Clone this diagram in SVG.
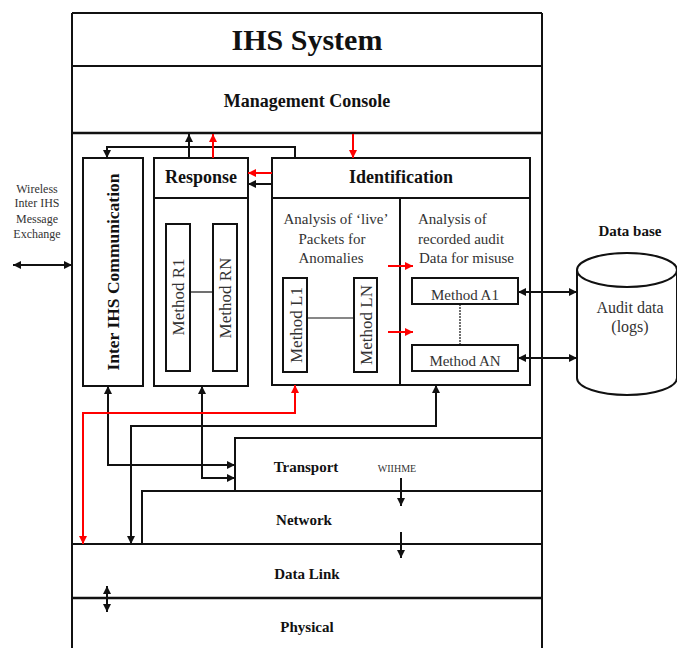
<svg xmlns="http://www.w3.org/2000/svg" width="677" height="648" viewBox="0 0 677 648">
<defs>
<style>
.box{fill:#fff;stroke:#111;stroke-width:2}
.ln{fill:none;stroke:#111;stroke-width:2}
.thin{fill:none;stroke:#111;stroke-width:1.2}
.c{fill:none;stroke:#111;stroke-width:2}
.r{fill:none;stroke:#f00;stroke-width:2}
.hb{font-family:"Liberation Serif",serif;font-weight:bold;fill:#111;text-anchor:middle}
.t{font-family:"Liberation Serif",serif;fill:#333}
.m{text-anchor:middle}
</style>
<marker id="ab" viewBox="0 0 8 8" refX="8" refY="4" markerWidth="8" markerHeight="8" markerUnits="userSpaceOnUse" orient="auto-start-reverse"><path d="M0,0 L8,4 L0,8 z" fill="#111"/></marker>
<marker id="ar" viewBox="0 0 8 8" refX="8" refY="4" markerWidth="8" markerHeight="8" markerUnits="userSpaceOnUse" orient="auto-start-reverse"><path d="M0,0 L8,4 L0,8 z" fill="#f00"/></marker>
</defs>
<rect width="677" height="648" fill="#fff"/>

<g id="frame">
<path class="ln" d="M72,13 V648 M542,13 V648 M72,13 H542 M72,66 H542"/>
<path d="M72,133 H542" stroke="#111" stroke-width="2.5"/>
<text class="hb" x="307" y="50" font-size="30">IHS System</text>
</g>

<g id="console">
<text class="hb" x="307" y="107" font-size="18">Management Console</text>
</g>

<g id="wireless">
<text class="t m" x="37" y="193" font-size="12" fill="#444">Wireless</text>
<text class="t m" x="37" y="207" font-size="12" fill="#444">Inter IHS</text>
<text class="t m" x="37" y="223" font-size="12" fill="#444">Message</text>
<text class="t m" x="37" y="238" font-size="12" fill="#444">Exchange</text>
</g>

<g id="inter-ihs">
<rect class="box" x="83" y="158" width="60" height="228"/>
<text class="hb" transform="translate(119,272) rotate(-90)" font-size="17.5">Inter IHS Communication</text>
</g>

<g id="response">
<rect class="box" x="154" y="158" width="94" height="228"/>
<path class="ln" d="M154,198 H248"/>
<text class="hb" x="201" y="183" font-size="18">Response</text>
<g id="method-r1">
<rect class="box" x="166" y="224" width="24" height="147"/>
<text class="t m" transform="translate(184,297) rotate(-90)" font-size="17">Method R1</text>
</g>
<g id="method-rn">
<rect class="box" x="213" y="224" width="24" height="147"/>
<text class="t m" transform="translate(231,298) rotate(-90)" font-size="17">Method RN</text>
</g>
<path class="thin" d="M190,292 H213"/>
</g>

<g id="identification">
<rect class="box" x="272" y="158" width="258" height="227"/>
<path class="ln" d="M272,198 H530 M400,198 V385"/>
<text class="hb" x="401" y="183" font-size="18">Identification</text>
<text class="t m" x="336" y="224" font-size="15">Analysis of ‘live’</text>
<text class="t m" x="332" y="244" font-size="15">Packets for</text>
<text class="t m" x="331" y="263" font-size="15">Anomalies</text>
<text class="t" x="418" y="224" font-size="15">Analysis of</text>
<text class="t" x="418" y="244" font-size="15">recorded audit</text>
<text class="t" x="419" y="263" font-size="15">Data for misuse</text>
<g id="method-l1">
<rect class="box" x="283" y="278" width="24" height="94"/>
<text class="t m" transform="translate(302,325) rotate(-90)" font-size="17">Method L1</text>
</g>
<g id="method-ln">
<rect class="box" x="354" y="278" width="23" height="94"/>
<text class="t m" transform="translate(372,325) rotate(-90)" font-size="17">Method LN</text>
</g>
<path class="thin" d="M307,318 H354"/>
<g id="method-a1">
<rect class="box" x="412" y="278" width="106" height="26"/>
<text class="t m" x="465" y="300" font-size="15">Method A1</text>
</g>
<g id="method-an">
<rect class="box" x="412" y="345" width="106" height="26"/>
<text class="t m" x="465" y="366" font-size="15">Method AN</text>
</g>
<path class="thin" d="M460,304 V345" stroke-dasharray="2,1"/>
</g>

<g id="database">
<text class="hb" x="630" y="236" font-size="15">Data base</text>
<path class="box" d="M577,270 V378 A50,17 0 0 0 677,378 V270"/>
<ellipse class="box" cx="627" cy="270" rx="50" ry="17"/>
<text class="t m" x="630" y="313" font-size="16">Audit data</text>
<text class="t m" x="630" y="332" font-size="16">(logs)</text>
</g>

<g id="layers">
<path class="ln" d="M235,491 V438 H542 M142,544 V491 H542 M72,544 H542"/>
<path d="M72,598 H542" stroke="#111" stroke-width="2.5"/>
<text class="hb" x="306" y="472" font-size="15">Transport</text>
<text class="t m" x="397" y="472" font-size="10" fill="#444">WIIHME</text>
<text class="hb" x="304" y="525" font-size="15">Network</text>
<text class="hb" x="307" y="579" font-size="15">Data Link</text>
<text class="hb" x="307" y="632" font-size="15">Physical</text>
</g>

<g id="connectors">
<path class="c" d="M295,158 V147 H107 V158" marker-end="url(#ab)"/>
<path class="c" d="M189,158 V134" marker-end="url(#ab)"/>
<path class="r" d="M213,158 V134" marker-end="url(#ar)"/>
<path class="r" d="M353,134 V158" marker-end="url(#ar)"/>
<path class="r" d="M272,173 H248" marker-end="url(#ar)"/>
<path class="c" d="M272,184 H248" marker-end="url(#ab)"/>
<path class="r" d="M388,266 H413" marker-end="url(#ar)"/>
<path class="r" d="M388,332 H413" marker-end="url(#ar)"/>
<path class="c" d="M13,265 H72" marker-start="url(#ab)" marker-end="url(#ab)"/>
<path class="c" stroke-width="2.5" d="M518,292 H577" marker-start="url(#ab)" marker-end="url(#ab)"/>
<path class="c" stroke-width="2.5" d="M518,358 H577" marker-start="url(#ab)" marker-end="url(#ab)"/>
<path class="c" d="M108,386 V465 H235" marker-start="url(#ab)" marker-end="url(#ab)"/>
<path class="c" d="M202,386 V478 H235" marker-start="url(#ab)" marker-end="url(#ab)"/>
<path class="r" d="M295,385 V413 H83 V544" marker-start="url(#ar)" marker-end="url(#ar)"/>
<path class="c" d="M436,385 V426 H131 V544" marker-start="url(#ab)" marker-end="url(#ab)"/>
<path class="c" d="M401,478 V506" marker-end="url(#ab)"/>
<path class="c" d="M401,532 V558" marker-end="url(#ab)"/>
<path class="c" d="M107,586 V612" marker-start="url(#ab)" marker-end="url(#ab)"/>
</g>
</svg>
